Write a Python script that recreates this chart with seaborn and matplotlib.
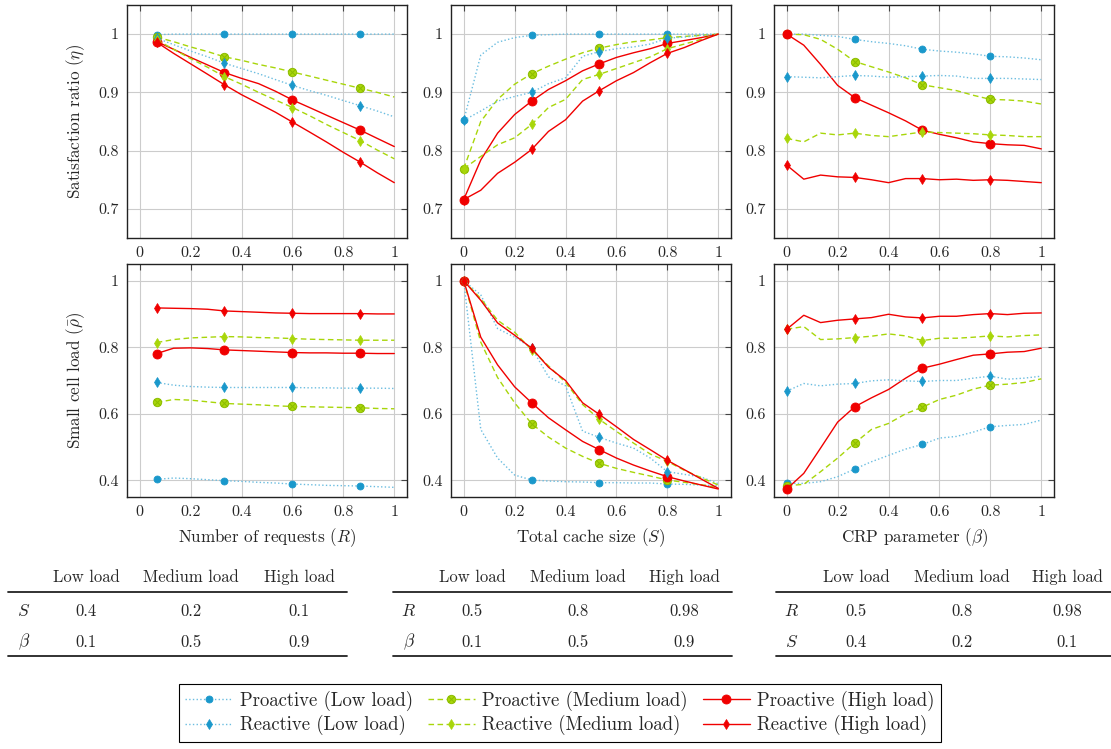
import matplotlib
matplotlib.use("Agg")
import matplotlib.pyplot as plt
import seaborn as sns
from matplotlib.lines import Line2D
from matplotlib.path import Path

# ---------------- data ----------------
req_x = [0.067, 0.133, 0.2, 0.267, 0.333, 0.4, 0.467, 0.533, 0.6, 0.667, 0.733, 0.8, 0.867, 0.933, 1.0]
cache_x = [0.0, 0.067, 0.133, 0.2, 0.267, 0.333, 0.4, 0.467, 0.533, 0.6, 0.667, 0.733, 0.8, 0.867, 0.933, 1.0]
crp_x = [0.0, 0.067, 0.133, 0.2, 0.267, 0.333, 0.4, 0.467, 0.533, 0.6, 0.667, 0.733, 0.8, 0.867, 0.933, 1.0]

# satisfaction ratio vs number of requests
req_sat_pro_low = [0.999, 1.0, 1.0, 1.0, 1.0, 1.0, 1.0, 1.0, 1.0, 1.0, 1.0, 1.0, 1.0, 1.0, 1.0]
req_sat_pro_med = [0.995, 0.987, 0.978, 0.970, 0.961, 0.955, 0.948, 0.942, 0.935, 0.928, 0.921, 0.914, 0.907, 0.900, 0.892]
req_sat_pro_high = [0.987, 0.974, 0.960, 0.947, 0.934, 0.924, 0.915, 0.902, 0.887, 0.874, 0.861, 0.848, 0.835, 0.821, 0.807]
req_sat_re_low = [0.993, 0.982, 0.971, 0.961, 0.950, 0.941, 0.932, 0.922, 0.912, 0.903, 0.895, 0.886, 0.877, 0.868, 0.858]
req_sat_re_med = [0.990, 0.974, 0.958, 0.943, 0.927, 0.914, 0.900, 0.887, 0.874, 0.860, 0.845, 0.831, 0.817, 0.801, 0.786]
req_sat_re_high = [0.986, 0.967, 0.949, 0.931, 0.913, 0.896, 0.881, 0.866, 0.849, 0.832, 0.815, 0.797, 0.780, 0.762, 0.745]

# satisfaction ratio vs total cache size
cache_sat_pro_low = [0.852, 0.964, 0.986, 0.994, 0.998, 0.999, 1.0, 1.0, 1.0, 1.0, 1.0, 1.0, 1.0, 1.0, 1.0, 1.0]
cache_sat_pro_med = [0.769, 0.850, 0.888, 0.914, 0.932, 0.945, 0.957, 0.968, 0.976, 0.982, 0.987, 0.990, 0.994, 0.996, 0.998, 1.0]
cache_sat_pro_high = [0.716, 0.784, 0.830, 0.862, 0.885, 0.905, 0.920, 0.937, 0.949, 0.960, 0.968, 0.975, 0.984, 0.989, 0.994, 1.0]
cache_sat_re_low = [0.852, 0.868, 0.885, 0.893, 0.900, 0.915, 0.925, 0.962, 0.970, 0.975, 0.978, 0.983, 0.993, 0.995, 0.998, 1.0]
cache_sat_re_med = [0.769, 0.790, 0.810, 0.822, 0.845, 0.874, 0.888, 0.922, 0.931, 0.941, 0.951, 0.961, 0.975, 0.983, 0.991, 1.0]
cache_sat_re_high = [0.716, 0.732, 0.761, 0.780, 0.802, 0.833, 0.853, 0.885, 0.903, 0.920, 0.934, 0.951, 0.967, 0.977, 0.989, 1.0]

# satisfaction ratio vs CRP parameter
crp_sat_pro_low = [1.0, 1.0, 0.998, 0.996, 0.991, 0.987, 0.984, 0.980, 0.974, 0.971, 0.969, 0.966, 0.962, 0.961, 0.959, 0.956]
crp_sat_pro_med = [1.0, 0.999, 0.991, 0.974, 0.953, 0.944, 0.935, 0.925, 0.913, 0.908, 0.903, 0.895, 0.888, 0.887, 0.885, 0.880]
crp_sat_pro_high = [1.0, 0.981, 0.948, 0.912, 0.891, 0.878, 0.865, 0.851, 0.835, 0.828, 0.822, 0.815, 0.812, 0.810, 0.809, 0.803]
crp_sat_re_low = [0.927, 0.926, 0.925, 0.927, 0.929, 0.928, 0.926, 0.927, 0.928, 0.929, 0.928, 0.924, 0.924, 0.924, 0.923, 0.922]
crp_sat_re_med = [0.821, 0.815, 0.830, 0.827, 0.830, 0.826, 0.824, 0.828, 0.832, 0.831, 0.830, 0.829, 0.827, 0.826, 0.824, 0.824]
crp_sat_re_high = [0.775, 0.751, 0.758, 0.755, 0.754, 0.750, 0.745, 0.752, 0.752, 0.750, 0.751, 0.749, 0.750, 0.749, 0.747, 0.745]

# small cell load vs number of requests
req_load_pro_low = [0.403, 0.407, 0.405, 0.402, 0.399, 0.397, 0.394, 0.392, 0.389, 0.387, 0.385, 0.384, 0.383, 0.381, 0.379]
req_load_pro_med = [0.634, 0.643, 0.641, 0.636, 0.631, 0.629, 0.627, 0.624, 0.622, 0.621, 0.620, 0.619, 0.618, 0.616, 0.615]
req_load_pro_high = [0.781, 0.797, 0.798, 0.796, 0.792, 0.790, 0.788, 0.786, 0.784, 0.783, 0.783, 0.782, 0.782, 0.781, 0.781]
req_load_re_low = [0.694, 0.686, 0.682, 0.680, 0.679, 0.679, 0.679, 0.679, 0.679, 0.678, 0.678, 0.677, 0.677, 0.677, 0.676]
req_load_re_med = [0.814, 0.823, 0.828, 0.830, 0.832, 0.831, 0.829, 0.828, 0.826, 0.824, 0.823, 0.822, 0.821, 0.821, 0.821]
req_load_re_high = [0.918, 0.917, 0.916, 0.914, 0.909, 0.907, 0.905, 0.903, 0.902, 0.901, 0.901, 0.901, 0.901, 0.900, 0.900]

# small cell load vs total cache size
cache_load_pro_low = [1.0, 0.553, 0.467, 0.416, 0.401, 0.398, 0.396, 0.395, 0.393, 0.393, 0.392, 0.392, 0.389, 0.388, 0.386, 0.384]
cache_load_pro_med = [1.0, 0.815, 0.709, 0.633, 0.570, 0.530, 0.497, 0.472, 0.451, 0.436, 0.424, 0.413, 0.401, 0.394, 0.387, 0.378]
cache_load_pro_high = [1.0, 0.830, 0.747, 0.681, 0.633, 0.588, 0.552, 0.517, 0.492, 0.467, 0.446, 0.428, 0.411, 0.398, 0.386, 0.374]
cache_load_re_low = [1.0, 0.957, 0.856, 0.830, 0.798, 0.711, 0.684, 0.548, 0.529, 0.512, 0.497, 0.467, 0.426, 0.418, 0.410, 0.390]
cache_load_re_med = [1.0, 0.946, 0.881, 0.845, 0.792, 0.744, 0.694, 0.628, 0.583, 0.547, 0.512, 0.479, 0.457, 0.430, 0.408, 0.386]
cache_load_re_high = [1.0, 0.941, 0.873, 0.836, 0.797, 0.740, 0.700, 0.633, 0.598, 0.561, 0.523, 0.492, 0.460, 0.432, 0.404, 0.376]

# small cell load vs CRP parameter
crp_load_pro_low = [0.391, 0.391, 0.396, 0.411, 0.434, 0.456, 0.475, 0.494, 0.508, 0.527, 0.532, 0.545, 0.561, 0.565, 0.568, 0.581]
crp_load_pro_med = [0.384, 0.388, 0.426, 0.467, 0.512, 0.553, 0.571, 0.600, 0.620, 0.643, 0.656, 0.674, 0.686, 0.689, 0.694, 0.705]
crp_load_pro_high = [0.374, 0.421, 0.497, 0.575, 0.621, 0.648, 0.673, 0.707, 0.737, 0.749, 0.763, 0.776, 0.780, 0.785, 0.787, 0.797]
crp_load_re_low = [0.668, 0.691, 0.684, 0.689, 0.691, 0.699, 0.702, 0.699, 0.697, 0.700, 0.700, 0.707, 0.713, 0.704, 0.707, 0.713]
crp_load_re_med = [0.854, 0.862, 0.823, 0.825, 0.829, 0.833, 0.840, 0.834, 0.820, 0.827, 0.827, 0.830, 0.834, 0.831, 0.835, 0.837]
crp_load_re_high = [0.854, 0.896, 0.874, 0.881, 0.885, 0.889, 0.899, 0.891, 0.888, 0.893, 0.893, 0.898, 0.901, 0.898, 0.902, 0.903]

series_labels = ["Proactive (Low load)", "Proactive (Medium load)", "Proactive (High load)",
                 "Reactive (Low load)", "Reactive (Medium load)", "Reactive (High load)"]

x_ticks = [0, 0.2, 0.4, 0.6, 0.8, 1]
x_tick_labels = ["0", "0.2", "0.4", "0.6", "0.8", "1"]
sat_ticks = [0.7, 0.8, 0.9, 1]
sat_tick_labels = ["0.7", "0.8", "0.9", "1"]
load_ticks = [0.4, 0.6, 0.8, 1]
load_tick_labels = ["0.4", "0.6", "0.8", "1"]

x_labels = ["Number of requests ($R$)", "Total cache size ($S$)", r"CRP parameter ($\beta$)"]
y_labels = [r"Satisfaction ratio ($\eta$)", r"Small cell load ($\bar{\rho}$)"]

tab_cols = ["Low load", "Medium load", "High load"]
tab1_rows = ["$S$", r"$\beta$"]
tab1_vals = [["0.4", "0.2", "0.1"], ["0.1", "0.5", "0.9"]]
tab2_rows = ["$R$", r"$\beta$"]
tab2_vals = [["0.5", "0.8", "0.98"], ["0.1", "0.5", "0.9"]]
tab3_rows = ["$R$", "$S$"]
tab3_vals = [["0.5", "0.8", "0.98"], ["0.4", "0.2", "0.1"]]

# ---------------- style ----------------
sns.set_theme(style="whitegrid")
plt.rcParams["font.family"] = ["cmr10", "DejaVu Serif"]
plt.rcParams["mathtext.fontset"] = "cm"
plt.rcParams["axes.formatter.use_mathtext"] = True
plt.rcParams["axes.unicode_minus"] = False

BLUE = "#1a98cb"
BLUE_LINE = "#6bbde0"
GREEN = "#a8d60a"
GREEN_DARK = "#8cbc00"
RED = "#f00000"

otimes = Path.make_compound_path(
    Path.unit_circle(),
    Path([(-0.7, -0.7), (0.7, 0.7)], [Path.MOVETO, Path.LINETO]),
    Path([(-0.7, 0.7), (0.7, -0.7)], [Path.MOVETO, Path.LINETO]))

styles = [
    dict(color=BLUE_LINE, linestyle=":", linewidth=1.0, marker="o", markersize=5,
         markerfacecolor=BLUE, markeredgecolor=BLUE, markeredgewidth=0.6),
    dict(color=GREEN, linestyle=(0, (4, 2.5)), linewidth=1.0, marker=otimes, markersize=6,
         markerfacecolor=GREEN, markeredgecolor=GREEN_DARK, markeredgewidth=0.7),
    dict(color=RED, linestyle="-", linewidth=1.0, marker="o", markersize=6.5,
         markerfacecolor=RED, markeredgecolor=RED, markeredgewidth=0.6),
    dict(color=BLUE_LINE, linestyle=":", linewidth=1.0, marker="d", markersize=5,
         markerfacecolor=BLUE, markeredgecolor=BLUE, markeredgewidth=0.5),
    dict(color=GREEN, linestyle=(0, (4, 2.5)), linewidth=1.0, marker="d", markersize=5,
         markerfacecolor=GREEN, markeredgecolor=GREEN, markeredgewidth=0.5),
    dict(color=RED, linestyle="-", linewidth=1.0, marker="d", markersize=5.5,
         markerfacecolor=RED, markeredgecolor=RED, markeredgewidth=0.5),
]

W, H = 1111, 749


def fx(x):
    return x / W


def fy(y):
    return 1 - y / H


fig = plt.figure(figsize=(W / 100, H / 100), dpi=100)

panel_left = [127, 451, 774]
row_top = [5, 264]
panel_w, panel_h = 280, 233

panel_x = [req_x, cache_x, crp_x]
panel_series = [
    [[req_sat_pro_low, req_sat_pro_med, req_sat_pro_high, req_sat_re_low, req_sat_re_med, req_sat_re_high],
     [cache_sat_pro_low, cache_sat_pro_med, cache_sat_pro_high, cache_sat_re_low, cache_sat_re_med, cache_sat_re_high],
     [crp_sat_pro_low, crp_sat_pro_med, crp_sat_pro_high, crp_sat_re_low, crp_sat_re_med, crp_sat_re_high]],
    [[req_load_pro_low, req_load_pro_med, req_load_pro_high, req_load_re_low, req_load_re_med, req_load_re_high],
     [cache_load_pro_low, cache_load_pro_med, cache_load_pro_high, cache_load_re_low, cache_load_re_med, cache_load_re_high],
     [crp_load_pro_low, crp_load_pro_med, crp_load_pro_high, crp_load_re_low, crp_load_re_med, crp_load_re_high]],
]

for r in range(2):
    for c in range(3):
        ax = fig.add_axes([fx(panel_left[c]), fy(row_top[r] + panel_h), panel_w / W, panel_h / H])
        for ys, st in zip(panel_series[r][c], styles):
            sns.lineplot(x=panel_x[c], y=ys, ax=ax, sort=False, legend=False,
                         markevery=4, errorbar=None, **st)
        ax.set_xlim(-0.05, 1.05)
        ax.set_xticks(x_ticks)
        ax.set_xticklabels(x_tick_labels)
        if r == 0:
            ax.set_ylim(0.65, 1.05)
            ax.set_yticks(sat_ticks)
            ax.set_yticklabels(sat_tick_labels)
        else:
            ax.set_ylim(0.35, 1.05)
            ax.set_yticks(load_ticks)
            ax.set_yticklabels(load_tick_labels)
            ax.set_xlabel(x_labels[c], fontsize=12.3, labelpad=5)
        if c == 0:
            ax.set_ylabel(y_labels[r], fontsize=12.3)
            ax.yaxis.set_label_coords(-0.143, 0.5)
        ax.grid(True, color="#cccccc", linewidth=0.8)
        ax.set_axisbelow(True)
        ax.tick_params(direction="in", top=True, right=True, length=4, width=0.8,
                       color="#444444", labelsize=11.5, pad=6)
        for sp in ax.spines.values():
            sp.set_color("#222222")
            sp.set_linewidth(1.0)

# ---------------- parameter tables ----------------
tables = [(tab1_rows, tab1_vals), (tab2_rows, tab2_vals), (tab3_rows, tab3_vals)]
tab_left = [8, 393, 776]
tab_right = [347, 732, 1111]
tab_label_x = [24, 409, 792]
tab_col_x = [[86, 191, 299], [472, 578, 684], [856, 962, 1067]]
y_head, y_rule1, y_row1, y_row2, y_rule2 = 577, 592, 611, 642, 656

for t, (rows, vals) in enumerate(tables):
    for j, name in enumerate(tab_cols):
        fig.text(fx(tab_col_x[t][j]), fy(y_head), name, ha="center", va="center", fontsize=12)
    for i, (rname, rv) in enumerate(zip(rows, vals)):
        yy = [y_row1, y_row2][i]
        fig.text(fx(tab_label_x[t]), fy(yy), rname, ha="center", va="center", fontsize=12.5)
        for j, v in enumerate(rv):
            fig.text(fx(tab_col_x[t][j]), fy(yy), v, ha="center", va="center", fontsize=12)
    for yr in (y_rule1, y_rule2):
        fig.add_artist(Line2D([fx(tab_left[t]), fx(tab_right[t])], [fy(yr), fy(yr)],
                              transform=fig.transFigure, color="#222222", linewidth=1.3))

# ---------------- legend ----------------
handles = [Line2D([], [], **st) for st in styles]
order = [0, 3, 1, 4, 2, 5]
leg = fig.legend([handles[i] for i in order], [series_labels[i] for i in order],
                 ncol=3, loc="center", bbox_to_anchor=(fx(560), fy(713)),
                 frameon=True, fancybox=False, edgecolor="black", framealpha=1,
                 fontsize=13.5, handlelength=2.5, handletextpad=0.4,
                 columnspacing=0.8, borderpad=0.35, labelspacing=0.22,
                 borderaxespad=0)
leg.get_frame().set_linewidth(0.8)

fig.savefig("out.png", dpi=100)
